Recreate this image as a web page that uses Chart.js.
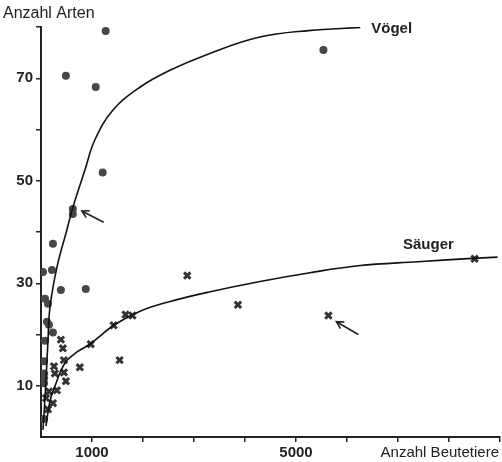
<!DOCTYPE html>
<html>
<head>
<meta charset="utf-8">
<script src="https://cdn.jsdelivr.net/npm/chart.js@4"></script>
<style>
  body { margin: 0; background: #fff; }
  #box { width: 502px; height: 462px; }
</style>
</head>
<body>
<div id="box"><canvas id="myChart"></canvas></div>
<script>
// Punkte: Anzahl Beutetiere (x) / Anzahl Arten (y)
var voegelX = [1268, 488, 1073, 5538, 1209, 624, 624, 234, 215, 39, 390, 878, 78, 137, 117, 156, 234, 78, 59, 59, 59, 59, 59];
var voegelY = [79.2, 70.5, 68.3, 75.5, 51.6, 44.5, 43.5, 37.7, 32.6, 32.2, 28.7, 28.9, 27.0, 26.0, 22.5, 21.9, 20.4, 18.8, 14.8, 12.4, 11.5, 10.5, 3.5];

var saeugerX = [390, 429, 449, 254, 761, 449, 273, 488, 312, 156, 98, 234, 137, 975, 1424, 1658, 1794, 1541, 2867, 3861, 5636, 8502];
var saeugerY = [19.0, 17.3, 15.0, 13.8, 13.6, 12.6, 12.4, 10.9, 9.1, 8.9, 7.6, 6.6, 5.4, 18.1, 21.8, 23.9, 23.7, 15.0, 31.5, 25.8, 23.7, 34.8];

// Kurven
var kurveVoegelX = [39, 98, 137, 176, 312, 507, 624, 858, 1053, 1404, 1931, 2516, 3296, 4271, 5246, 6260];
var kurveVoegelY = [1.4, 11.1, 18.9, 25.3, 33.1, 40.4, 44.8, 52.0, 57.9, 63.7, 68.2, 71.5, 74.8, 78.0, 79.3, 79.9];

var kurveSaeugerX = [98, 176, 273, 468, 722, 956, 1443, 1931, 2516, 3296, 4271, 5246, 6221, 7391, 8366, 8951];
var kurveSaeugerY = [2.1, 7.0, 9.9, 14.4, 16.7, 18.1, 21.9, 24.5, 26.4, 28.3, 30.3, 32.0, 33.4, 34.2, 34.8, 35.1];

// Pfeile [x0, y0, x1 (Spitze), y1]
var pfeilVoegel = [1229, 41.9, 800, 44.1];
var pfeilSaeuger = [6221, 20.0, 5792, 22.5];

var xTickLabels = [1000, 5000];
var yTickLabels = [10, 30, 50, 70];

function punkte(xs, ys) {
    var res = [];
    for (var i = 0; i < xs.length; i++) {
        res.push({x: xs[i], y: ys[i]});
    }
    return res;
}

var fontName = "'Liberation Sans', Arial, sans-serif";

// Beschriftungen und Pfeile
var extras = {
    id: 'extras',
    afterDraw: function (chart) {
        var c = chart.ctx;
        var xs = chart.scales.x;
        var ys = chart.scales.y;
        c.save();
        c.fillStyle = '#222';
        c.textBaseline = 'middle';
        c.font = '16px ' + fontName;
        c.textAlign = 'left';
        c.fillText('Anzahl Arten', 3, 14);
        c.font = '15px ' + fontName;
        c.textAlign = 'right';
        c.fillText('Anzahl Beutetiere', chart.width - 3, 453);

        c.font = 'bold 15px ' + fontName;
        c.textAlign = 'left';
        var n = kurveVoegelX.length - 1;
        c.fillText('Vögel', xs.getPixelForValue(kurveVoegelX[n]) + 11, ys.getPixelForValue(kurveVoegelY[n]) + 1);
        c.fillText('Säuger', xs.getPixelForValue(7098), ys.getPixelForValue(37.5));

        [pfeilVoegel, pfeilSaeuger].forEach(function (p) {
            var x0 = xs.getPixelForValue(p[0]), y0 = ys.getPixelForValue(p[1]);
            var x1 = xs.getPixelForValue(p[2]), y1 = ys.getPixelForValue(p[3]);
            var a = Math.atan2(y1 - y0, x1 - x0);
            c.strokeStyle = '#222';
            c.lineWidth = 1.6;
            c.beginPath();
            c.moveTo(x0, y0);
            c.lineTo(x1, y1);
            c.moveTo(x1 - 8 * Math.cos(a - 0.5), y1 - 8 * Math.sin(a - 0.5));
            c.lineTo(x1, y1);
            c.lineTo(x1 - 8 * Math.cos(a + 0.5), y1 - 8 * Math.sin(a + 0.5));
            c.stroke();
        });
        c.restore();
    }
};

var tickColor = function (ctx) {
    return ctx.tick && ctx.tick.value === 0 ? 'rgba(0,0,0,0)' : '#222';
};

var ctx = document.getElementById('myChart');
var myChart = new Chart(ctx, {
    type: 'scatter',
    data: {
        datasets: [{
            label: 'Kurve Vögel',
            type: 'line',
            data: punkte(kurveVoegelX, kurveVoegelY),
            borderColor: '#111',
            borderWidth: 1.6,
            pointRadius: 0,
            fill: false,
            tension: 0.4
        }, {
            label: 'Kurve Säuger',
            type: 'line',
            data: punkte(kurveSaeugerX, kurveSaeugerY),
            borderColor: '#111',
            borderWidth: 1.6,
            pointRadius: 0,
            fill: false,
            tension: 0.4
        }, {
            label: 'Vögel',
            data: punkte(voegelX, voegelY),
            pointStyle: 'circle',
            pointRadius: 4,
            backgroundColor: '#474747',
            borderColor: '#474747',
            borderWidth: 0
        }, {
            label: 'Säuger',
            data: punkte(saeugerX, saeugerY),
            pointStyle: 'crossRot',
            pointRadius: 4.5,
            borderColor: '#333',
            borderWidth: 3
        }]
    },
    options: {
        responsive: true,
        maintainAspectRatio: false,
        animation: false,
        layout: { autoPadding: false, padding: { top: 27, right: 0, left: 0, bottom: 0 } },
        plugins: {
            legend: { display: false },
            tooltip: { enabled: false }
        },
        scales: {
            x: {
                type: 'linear',
                min: 0,
                max: 9000,
                afterFit: function (s) { s.height = 25; },
                ticks: {
                    stepSize: 1000,
                    autoSkip: false,
                    maxRotation: 0,
                    padding: 2,
                    color: '#222',
                    font: { family: fontName, size: 15, weight: 'bold' },
                    callback: function (v) { return xTickLabels.indexOf(v) >= 0 ? String(v) : ''; }
                },
                grid: { drawOnChartArea: false, drawTicks: true, tickLength: 5, color: tickColor, lineWidth: 1.5 },
                border: { display: true, color: '#222', width: 2 }
            },
            y: {
                min: 0,
                max: 80,
                afterFit: function (s) { s.width = 41; },
                ticks: {
                    stepSize: 10,
                    autoSkip: false,
                    padding: 3,
                    color: '#222',
                    font: { family: fontName, size: 15, weight: 'bold' },
                    callback: function (v) { return yTickLabels.indexOf(v) >= 0 ? String(v) : ''; }
                },
                grid: { drawOnChartArea: false, drawTicks: true, tickLength: 5, color: tickColor, lineWidth: 1.5 },
                border: { display: true, color: '#222', width: 2 }
            }
        }
    },
    plugins: [extras]
});
</script>
</body>
</html>
